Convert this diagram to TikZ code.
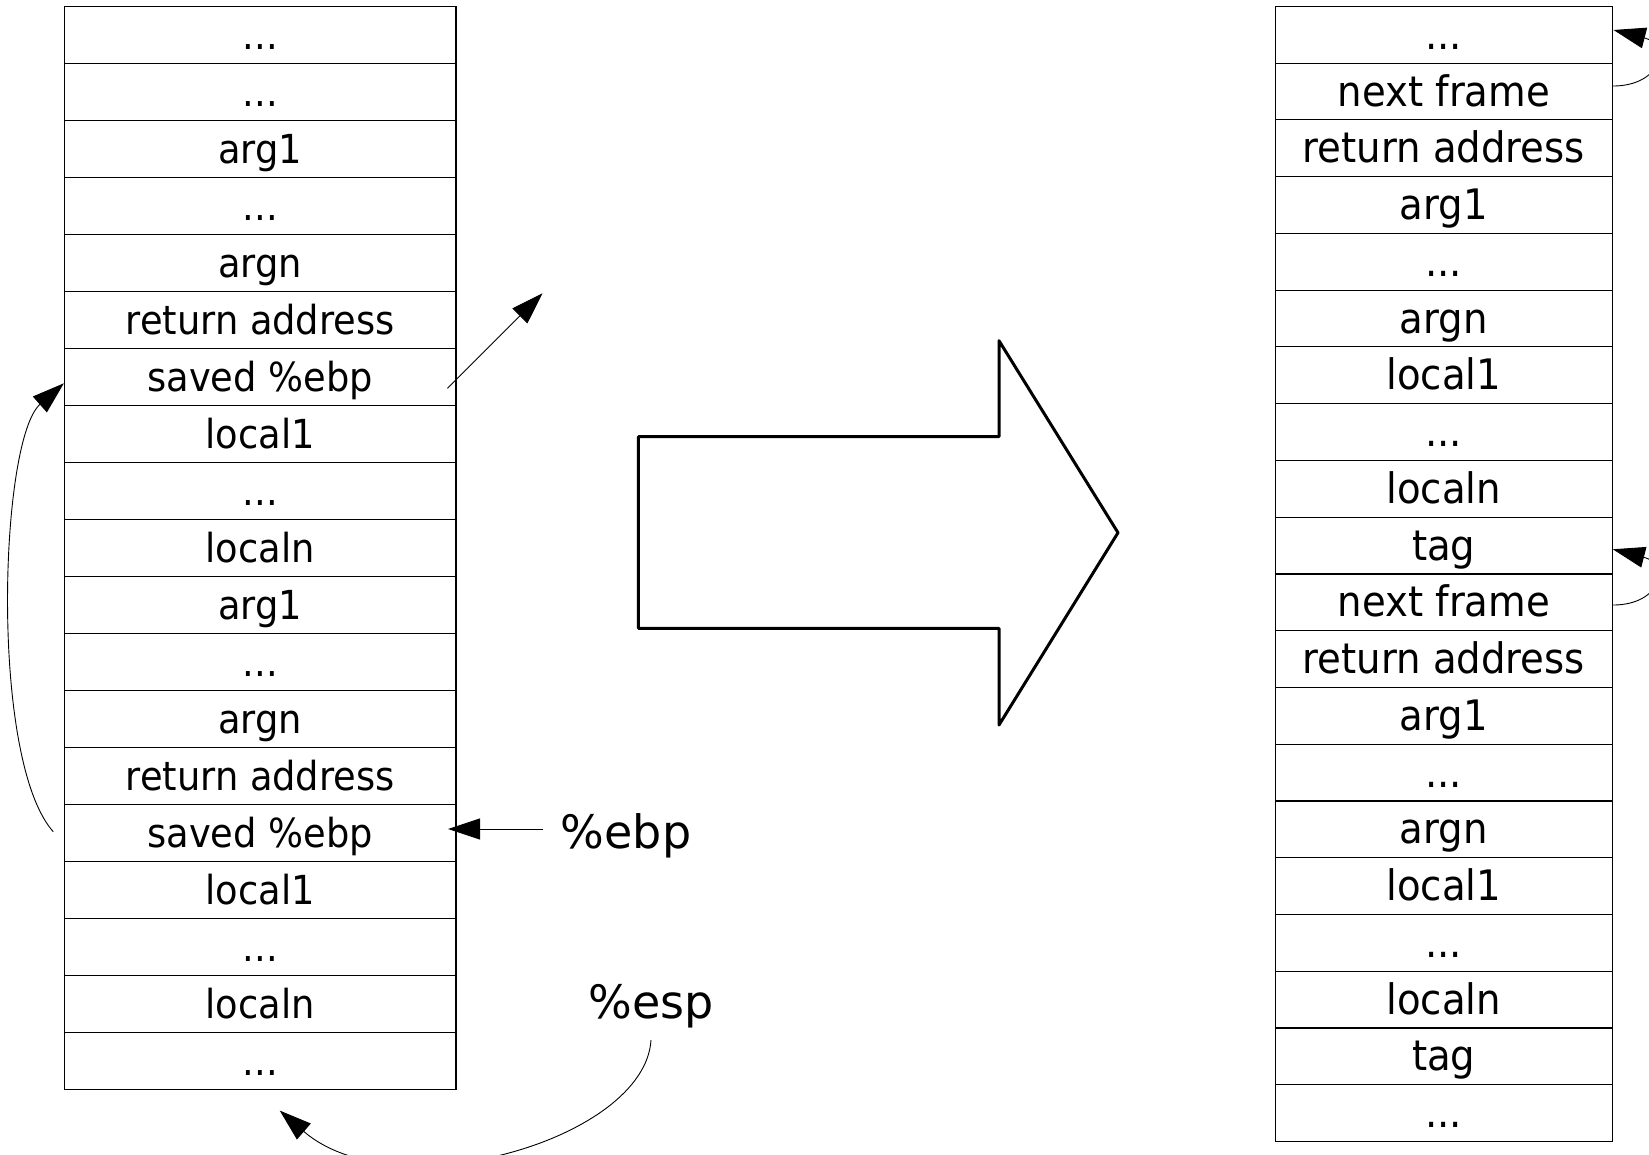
\documentclass[tikz,border=0pt]{standalone}
\usepackage{fontspec}
\setmainfont{DejaVu Sans}
\newfontfamily\cellfont{DejaVu Sans}[FakeStretch=0.92]
\usetikzlibrary{arrows.meta,calc}

\begin{document}
\begin{tikzpicture}[x=1pt,y=-1pt,
  cell/.style={draw=black, line width=1.1pt, inner sep=0pt,
    text height=29pt, text depth=0pt,
    minimum height=57pt, minimum width=391.6pt,
    font=\cellfont\fontsize{40}{48}\selectfont},
  rcell/.style={cell, minimum height=56.755pt, minimum width=337pt,
    font=\cellfont\fontsize{42}{50}\selectfont},
  reg/.style={anchor=base, inner sep=0pt, font=\fontsize{46}{54}\selectfont},
  link/.style={line width=0.9pt, -{Triangle[length=32pt,width=21pt]}},
  bigarrow/.style={line width=3pt, line join=round}
]
\useasboundingbox (0,0) rectangle (1649,1154);

% stack before the change
\node[cell] (L0)  at (260.2,34.9)   {...};
\node[cell] (L1)  at (260.2,91.9)   {...};
\node[cell] (L2)  at (260.2,148.9)  {arg1};
\node[cell] (L3)  at (260.2,205.9)  {...};
\node[cell] (L4)  at (260.2,262.9)  {argn};
\node[cell] (L5)  at (260.2,319.9)  {return address};
\node[cell] (L6)  at (260.2,376.9)  {saved \%ebp};
\node[cell] (L7)  at (260.2,433.9)  {local1};
\node[cell] (L8)  at (260.2,490.9)  {...};
\node[cell] (L9)  at (260.2,547.9)  {localn};
\node[cell] (L10) at (260.2,604.9)  {arg1};
\node[cell] (L11) at (260.2,661.9)  {...};
\node[cell] (L12) at (260.2,718.9)  {argn};
\node[cell] (L13) at (260.2,775.9)  {return address};
\node[cell] (L14) at (260.2,832.9)  {saved \%ebp};
\node[cell] (L15) at (260.2,889.9)  {local1};
\node[cell] (L16) at (260.2,946.9)  {...};
\node[cell] (L17) at (260.2,1003.9) {localn};
\node[cell] (L18) at (260.2,1060.9) {...};

% register labels
\node[reg] (ebp) at (626,848.3)  {\%ebp};
\node[reg] (esp) at (651,1018.3) {\%esp};

% stack after the change
\node[rcell] (R0)  at (1443.8,34.78)   {...};
\node[rcell] (R1)  at (1443.8,91.53)   {next frame};
\node[rcell] (R2)  at (1443.8,148.29)  {return address};
\node[rcell] (R3)  at (1443.8,205.04)  {arg1};
\node[rcell] (R4)  at (1443.8,261.80)  {...};
\node[rcell] (R5)  at (1443.8,318.55)  {argn};
\node[rcell] (R6)  at (1443.8,375.31)  {local1};
\node[rcell] (R7)  at (1443.8,432.06)  {...};
\node[rcell] (R8)  at (1443.8,488.82)  {localn};
\node[rcell] (R9)  at (1443.8,545.57)  {tag};
\node[rcell] (R10) at (1443.8,602.33)  {next frame};
\node[rcell] (R11) at (1443.8,659.08)  {return address};
\node[rcell] (R12) at (1443.8,715.84)  {arg1};
\node[rcell] (R13) at (1443.8,772.59)  {...};
\node[rcell] (R14) at (1443.8,829.35)  {argn};
\node[rcell] (R15) at (1443.8,886.10)  {local1};
\node[rcell] (R16) at (1443.8,942.86)  {...};
\node[rcell] (R17) at (1443.8,999.61)  {localn};
\node[rcell] (R18) at (1443.8,1056.37) {tag};
\node[rcell] (R19) at (1443.8,1113.12) {...};

% big transformation arrow
\draw[bigarrow] (638.4,436.7) -- (999,436.7) -- (999,340.7) -- (1118,532.7)
  -- (999,725) -- (999,628.3) -- (638.4,628.3) -- cycle;

% pointers of the first stack
\coordinate (up) at (542.5,293.3);
\draw[link] ($(L6.east)+(-9,11.4)$) -- (up);
\coordinate (ebptail) at (542.5,829);
\draw[link] (ebptail) -- ([xshift=-8.5pt]L14.east |- ebptail);
\draw[link] ($(L14.west)+(-10.6,-1.2)$) .. controls +(-63.8,-71.7) and +(-64.3,56.7)
  .. ($(L6.west)+(0,6.4)$);
\draw[link] ($(esp.base)+(0,21.7)$) .. controls +(-6,100) and +(115.3,100)
  .. ($(L18.south)+(19.5,20.6)$);

% frame links of the second stack
\draw[link] ($(R1.east)+(0,-5.5)$) .. controls +(48,0) and +(58.5,15)
  .. ($(R0.east)+(0.7,-4.8)$);
\draw[link] ($(R10.east)+(0,2.7)$) .. controls +(48,0) and +(58.5,15)
  .. ($(R9.east)+(0,3.7)$);
\end{tikzpicture}
\end{document}
